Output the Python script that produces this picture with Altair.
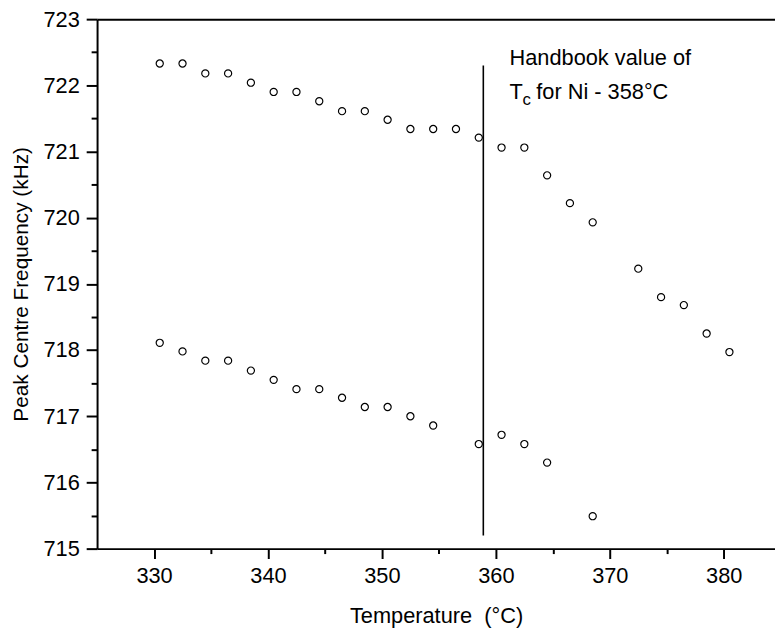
import altair as alt
import pandas as pd

# ---- data ----
upper_temp = [330.5, 332.5, 334.5, 336.5, 338.5, 340.5, 342.5, 344.5, 346.5, 348.5,
              350.5, 352.5, 354.5, 356.5, 358.5, 360.5, 362.5, 364.5, 366.5, 368.5,
              372.5, 374.5, 376.5, 378.5, 380.5]
upper_freq = [722.33, 722.33, 722.18, 722.18, 722.04, 721.90, 721.90, 721.76, 721.61, 721.61,
              721.48, 721.34, 721.34, 721.34, 721.21, 721.06, 721.06, 720.64, 720.22, 719.93,
              719.23, 718.80, 718.68, 718.25, 717.97]

lower_temp = [330.5, 332.5, 334.5, 336.5, 338.5, 340.5, 342.5, 344.5, 346.5, 348.5,
              350.5, 352.5, 354.5, 358.5, 360.5, 362.5, 364.5, 368.5]
lower_freq = [718.11, 717.98, 717.84, 717.84, 717.69, 717.55, 717.41, 717.41, 717.28, 717.14,
              717.14, 717.00, 716.86, 716.58, 716.72, 716.58, 716.30, 715.49]

tc_line_x = [358.9]
tc_line_y = [715.2]
tc_line_y2 = [722.3]

x_major = [330, 340, 350, 360, 370, 380]
x_minor = [335, 345, 355, 365, 375]
y_major = [715, 716, 717, 718, 719, 720, 721, 722, 723]
y_minor = [715.5, 716.5, 717.5, 718.5, 719.5, 720.5, 721.5, 722.5]

note_x = [361.2]
note_line1_y = [722.30]
note_line2_y = [721.79]

FONT = "Liberation Sans"

points = pd.DataFrame({
    "t": upper_temp + lower_temp,
    "f": upper_freq + lower_freq,
    "series": ["upper"] * len(upper_temp) + ["lower"] * len(lower_temp),
})
rule_df = pd.DataFrame({"t": tc_line_x, "f": tc_line_y, "f2": tc_line_y2})
note1 = pd.DataFrame({"t": note_x, "f": note_line1_y, "txt": ["Handbook value of"]})
note2 = pd.DataFrame({"t": note_x, "f": note_line2_y, "txt": ["T"]})
note3 = pd.DataFrame({"t": note_x, "f": note_line2_y, "txt": ["c"]})
note4 = pd.DataFrame({"t": note_x, "f": note_line2_y, "txt": ["for Ni - 358\u00b0C"]})

xs = alt.Scale(domain=[325, 384.5], nice=False, zero=False)
ys = alt.Scale(domain=[715, 723], nice=False, zero=False)

major_x_axis = alt.Axis(values=x_major, orient="bottom", tickSize=10, tickWidth=2,
                        domainWidth=2, domainColor="black", tickColor="black",
                        labelFontSize=22, labelFont=FONT, labelColor="black",
                        labelPadding=7, grid=False, format="d",
                        titleFontSize=22, titleFont=FONT, titleFontWeight="normal",
                        titleColor="black", titleY=68, titleBaseline="middle")
major_y_axis = alt.Axis(values=y_major, orient="left", tickSize=11, tickWidth=2,
                        domainWidth=2, domainColor="black", tickColor="black",
                        labelFontSize=22, labelFont=FONT, labelColor="black",
                        labelPadding=7, grid=False, format="d",
                        titleFontSize=21, titleFont=FONT, titleFontWeight="normal",
                        titleColor="black", titleX=-76, titleBaseline="middle")
minor_x_axis = alt.Axis(values=x_minor, orient="bottom", tickSize=5, tickWidth=2,
                        tickColor="black", labels=False, domain=False, grid=False,
                        title=None)
minor_y_axis = alt.Axis(values=y_minor, orient="left", tickSize=6, tickWidth=2,
                        tickColor="black", labels=False, domain=False, grid=False,
                        title=None)
top_axis = alt.Axis(orient="top", ticks=False, labels=False, domain=True,
                    domainWidth=2, domainColor="black", grid=False, title=None)

pts = alt.Chart(points).mark_point(shape="circle", filled=False, color="black",
                                   size=52, strokeWidth=1.2, opacity=1).encode(
    x=alt.X("t:Q", scale=xs, axis=major_x_axis, title="Temperature\u00a0 (\u00b0C)"),
    y=alt.Y("f:Q", scale=ys, axis=major_y_axis, title="Peak Centre Frequency (kHz)"),
    detail="series:N",
)

rule = alt.Chart(rule_df).mark_rule(color="black", strokeWidth=1.6).encode(
    x=alt.X("t:Q", scale=xs, axis=minor_x_axis),
    y=alt.Y("f:Q", scale=ys, axis=minor_y_axis),
    y2="f2:Q",
)

t1 = alt.Chart(note1).mark_text(align="left", baseline="alphabetic", fontSize=22,
                                font=FONT, color="black").encode(
    x=alt.X("t:Q", scale=xs, axis=top_axis),
    y=alt.Y("f:Q", scale=ys, axis=None),
    text="txt:N",
)
t2 = alt.Chart(note2).mark_text(align="left", baseline="alphabetic", fontSize=22,
                                font=FONT, color="black").encode(
    x=alt.X("t:Q", scale=xs, axis=None),
    y=alt.Y("f:Q", scale=ys, axis=None),
    text="txt:N",
)
t3 = alt.Chart(note3).mark_text(align="left", baseline="alphabetic", fontSize=17,
                                font=FONT, color="black", dx=13, dy=6).encode(
    x=alt.X("t:Q", scale=xs, axis=None),
    y=alt.Y("f:Q", scale=ys, axis=None),
    text="txt:N",
)
t4 = alt.Chart(note4).mark_text(align="left", baseline="alphabetic", fontSize=22,
                                font=FONT, color="black", dx=27).encode(
    x=alt.X("t:Q", scale=xs, axis=None),
    y=alt.Y("f:Q", scale=ys, axis=None),
    text="txt:N",
)

chart = alt.layer(pts, rule, t1, t2, t3, t4).resolve_scale(
    x="shared", y="shared"
).resolve_axis(
    x="independent", y="independent"
).properties(
    width=685, height=535,
    autosize=alt.AutoSizeParams(type="none"),
    padding={"left": 90, "top": 8, "right": 0, "bottom": 84},
    background="white",
).configure_view(stroke=None)

chart.save("out.html", embed_options={"renderer": "svg", "actions": False})
